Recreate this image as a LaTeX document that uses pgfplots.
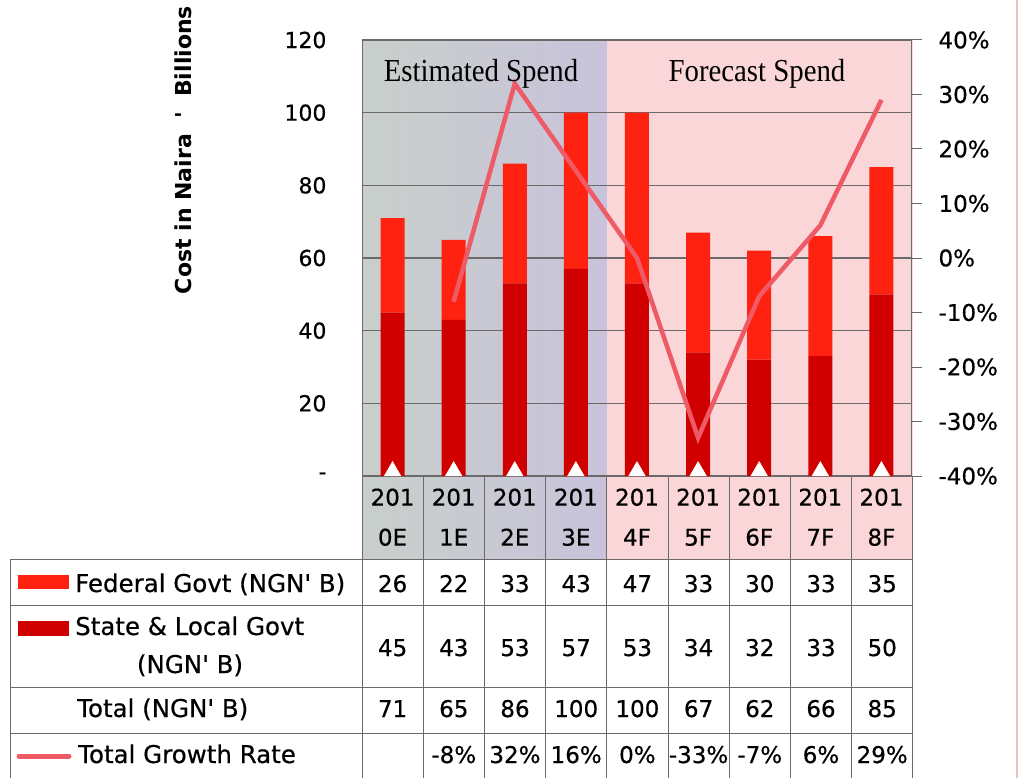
\documentclass[border=0pt]{standalone}
\usepackage{pgfplots}
\pgfplotsset{compat=1.18}
\usepackage{fontspec}
\setmainfont{DejaVu Sans}[FakeBold=0.5]
\newfontfamily\titlefont{Liberation Serif}
\newfontfamily\ylabfont{DejaVu Sans Bold}
\definecolor{fed}{HTML}{FF2210}
\definecolor{state}{HTML}{D10000}
\definecolor{growth}{HTML}{EE5A66}
\definecolor{estL}{HTML}{C8CFCA}
\definecolor{estR}{HTML}{C8C3DB}
\definecolor{fcst}{HTML}{FAD6D8}
\definecolor{gridc}{HTML}{6A6A6A}
\begin{document}
\begin{tikzpicture}
\fill[white] (0,0) rectangle (1021pt,-778pt);
\path[use as bounding box] (0,0) rectangle (1021pt,-778pt);
\begin{scope}[x=1pt,y=-1pt]
  \shade[left color=estL, right color=estR] (362,40) rectangle (606.8,559);
  \fill[fcst] (606.8,40) rectangle (913,559);
  \draw[color={rgb,255:red,240;green,190;blue,190}, line width=1.5pt] (1017,0) -- (1017,778);
\end{scope}
\begin{axis}[at={(362pt,-476pt)}, anchor=south west,
  width=550pt, height=436pt, scale only axis,
  xmin=-0.5, xmax=8.5, ymin=0, ymax=120, clip=false,
  axis line style={gridc, line width=1pt},
  ytick={0,20,40,60,80,100,120}, yticklabels={-,20,40,60,80,100,120},
  ymajorgrids, grid style={gridc, line width=1.1pt},
  ytick style={draw=none}, xtick style={draw=none},
  xtick={0,1,2,3,4,5,6,7,8},
  xticklabels={{201\\0E},{201\\1E},{201\\2E},{201\\3E},{201\\4F},{201\\5F},{201\\6F},{201\\7F},{201\\8F}},
  xticklabel style={align=center, font=\fontsize{23}{40}\selectfont, yshift=-9pt},
  yticklabel style={font=\fontsize{22}{26}\selectfont, xshift=-32pt},
  ybar stacked, bar width=24pt,
]
\addplot[fill=state, draw=none] coordinates {(0,45)(1,43)(2,53)(3,57)(4,53)(5,34)(6,32)(7,33)(8,50)};
\addplot[fill=fed, draw=none] coordinates {(0,26)(1,22)(2,33)(3,43)(4,47)(5,33)(6,30)(7,33)(8,35)};
\end{axis}
\begin{axis}[at={(362pt,-476pt)}, anchor=south west,
  width=550pt, height=436pt, scale only axis,
  xmin=-0.5, xmax=8.5, ymin=-40, ymax=40, clip=false,
  axis y line*=right, axis x line=none,
  axis line style={gridc, line width=1pt},
  ytick={-40,-30,-20,-10,0,10,20,30,40},
  yticklabels={-40\%,-30\%,-20\%,-10\%,0\%,10\%,20\%,30\%,40\%},
  tick align=outside, major tick length=10pt,
  ytick style={gridc, line width=1pt},
  yticklabel style={font=\fontsize{23}{26}\selectfont, xshift=13pt},
]
\addplot[only marks, mark=triangle*, mark size=9.5pt, mark options={fill=white, draw=white, line width=0.5pt}]
  coordinates {(0,-39.1)(1,-39.1)(2,-39.1)(3,-39.1)(4,-39.1)(5,-39.1)(6,-39.1)(7,-39.1)(8,-39.1)};
\addplot[growth, line width=4.5pt, mark=none] coordinates {(1,-8)(2,32)(3,16)(4,0)(5,-33)(6,-7)(7,6)(8,29)};
\end{axis}
\begin{scope}[x=1pt,y=-1pt, every node/.style={font=\fontsize{23}{28}\selectfont, inner sep=0pt}]
  \node[rotate=90, font=\ylabfont\fontsize{22}{26}\selectfont] at (183,150) {Cost in Naira \ \textquotesingle\ \ Billions};
  \node[anchor=base, font=\titlefont\fontsize{32}{34}\selectfont] at (481,82) {\scalebox{0.9}[1]{Estimated Spend}};
  \node[anchor=base, font=\titlefont\fontsize{32}{34}\selectfont] at (757,82) {\scalebox{0.9}[1]{Forecast Spend}};
  % table grid
  \foreach \yy in {559,605,687,733} \draw[gridc, line width=1pt] (10,\yy) -- (913,\yy);
  \draw[gridc, line width=1pt] (10,559) -- (10,778);
  \foreach \k in {0,...,9} \draw[gridc, line width=1pt] (362+61.2*\k,476) -- (362+61.2*\k,778);
  % legend swatches and row labels
  \fill[fed] (18,575) rectangle (69,589);
  \fill[state] (18,621) rectangle (69,636);
  \draw[growth, line width=5pt, line cap=round] (19,756) -- (69,756);
  \begin{scope}[every node/.style={font=\fontsize{24.5}{28}\selectfont, inner sep=0pt}]
  \node[anchor=base west] at (75,592) {Federal Govt (NGN\textquotesingle\ B)};
  \node[anchor=base west] at (75,635) {State \& Local Govt};
  \node[anchor=base] at (190,673) {(NGN\textquotesingle\ B)};
  \node[anchor=base west] at (77,717) {Total (NGN\textquotesingle\ B)};
  \node[anchor=base west] at (78,763) {Total Growth Rate};
  \end{scope}
  % values
  \foreach \v [count=\i from 0] in {26,22,33,43,47,33,30,33,35}
    \node[anchor=base] at (392.6+61.2*\i,592) {\v};
  \foreach \v [count=\i from 0] in {45,43,53,57,53,34,32,33,50}
    \node[anchor=base] at (392.6+61.2*\i,656) {\v};
  \foreach \v [count=\i from 0] in {71,65,86,100,100,67,62,66,85}
    \node[anchor=base] at (392.6+61.2*\i,717) {\v};
  \foreach \v [count=\i from 0] in {{},-8\%,32\%,16\%,0\%,-33\%,-7\%,6\%,29\%}
    \node[anchor=base] at (392.6+61.2*\i,763) {\v};
\end{scope}
\end{tikzpicture}
\end{document}
